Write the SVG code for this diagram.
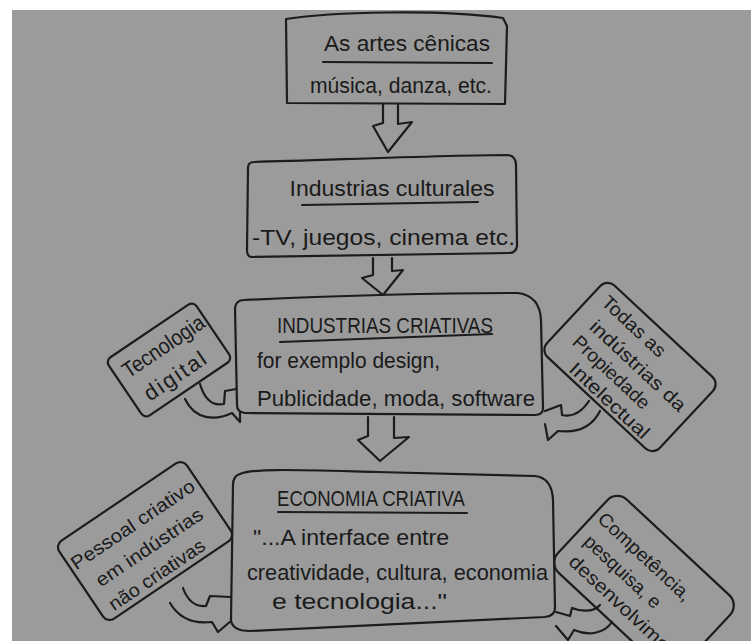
<svg xmlns="http://www.w3.org/2000/svg" width="751" height="641" viewBox="0 0 751 641">
<style>
.ln{fill:none;stroke:#1c1c1c;stroke-width:2.2;stroke-linecap:round;stroke-linejoin:round}
.bx{fill:#9b9b9b;stroke:#1c1c1c;stroke-width:2.2;stroke-linejoin:round}
.t{font-family:"Liberation Sans",Arial,sans-serif;fill:#1a1a1a;font-size:22px}
.s{font-size:19px}
.m{text-anchor:middle}
</style>
<rect x="0" y="0" width="751" height="641" fill="#ffffff"/>
<rect x="12" y="10" width="739" height="631" fill="#9b9b9b"/>

<g id="card-tecnologia" transform="translate(169,360) rotate(-34)">
<rect class="bx" x="-53" y="-35" width="106" height="70" rx="6"/>
<text class="t m" x="3" y="-7" font-size="20" textLength="94" lengthAdjust="spacingAndGlyphs">Tecnologia</text>
<text class="t m" x="-4" y="24" font-size="20" textLength="70" lengthAdjust="spacing">digital</text>
</g>
<g id="card-propiedade" transform="translate(630,367) rotate(43)">
<rect class="bx" x="-77" y="-49" width="154" height="98" rx="10"/>
<text class="t s m" x="-25" y="-26" textLength="80" lengthAdjust="spacingAndGlyphs">Todas as</text>
<text class="t s m" x="5" y="0" textLength="124" lengthAdjust="spacingAndGlyphs">indústrias da</text>
<text class="t s m" x="-10" y="23" textLength="98" lengthAdjust="spacingAndGlyphs">Propiedade</text>
<text class="t s m" x="8" y="45" textLength="102" lengthAdjust="spacingAndGlyphs">Intelectual</text>
</g>
<g id="card-pessoal" transform="translate(145,541) rotate(-34)">
<rect class="bx" x="-77" y="-47" width="154" height="94" rx="8"/>
<text class="t s m" x="-1" y="-14" textLength="145" lengthAdjust="spacingAndGlyphs">Pessoal criativo</text>
<text class="t s m" x="0" y="14" textLength="125" lengthAdjust="spacingAndGlyphs">em indústrias</text>
<text class="t s m" x="-9" y="41" textLength="112" lengthAdjust="spacingAndGlyphs">não criativas</text>
</g>
<g id="card-competencia" transform="translate(644,584) rotate(43)">
<rect class="bx" x="-84" y="-50" width="168" height="100" rx="14"/>
<text class="t s m" x="-18" y="-14" textLength="120" lengthAdjust="spacingAndGlyphs">Competência,</text>
<text class="t s m" x="-24" y="12" textLength="98" lengthAdjust="spacingAndGlyphs">pesquisa, e</text>
<text class="t s" x="-70" y="37" textLength="160" lengthAdjust="spacingAndGlyphs">desenvolvimento</text>
</g>

<g id="connectors">
<path class="ln" d="M383,104 L383,123 L373,126 L388,152 L412,122 L398,124 L398,104"/>
<path class="ln" d="M373,258 L373,275 L362,278 L383,295 L403,270 L392,271 L392,258"/>
<path class="ln" d="M368,417 L368,436 L358,440 L380,461 L409,437 L394,438 L394,417"/>
<path class="ln" d="M200,384 C205,401 214,406 224,404 L225,391 L236,389"/>
<path class="ln" d="M185,399 C195,420 215,421 232,413 L240,422 L240,411"/>
<path class="ln" d="M589,401 C581,413 571,417 562,415 L561,405 L545,411"/>
<path class="ln" d="M600,411 C591,429 575,433 558,431 L548,440 L545,424"/>
<path class="ln" d="M183,588 C188,602 196,607 206,606 L210,596 L231,597"/>
<path class="ln" d="M170,603 C180,620 195,624 212,622 L218,632 L231,621"/>
<path class="ln" d="M600,605 C594,612 582,612 572,608 L570,616 L556,612"/>
<path class="ln" d="M612,622 C604,634 588,636 574,630 L568,640 L556,626"/>
</g>

<g id="box-artes">
<path class="bx" d="M286,19 C330,12 440,9 503,18 L507,26 L505,104 L287,103 Z"/>
<text class="t m" x="407" y="51" textLength="166" lengthAdjust="spacingAndGlyphs">As artes cênicas</text>
<path class="ln" d="M323,62 L492,63"/>
<text class="t" x="310" y="93" textLength="182" lengthAdjust="spacingAndGlyphs">música, danza, etc.</text>
</g>
<g id="box-culturales">
<path class="bx" d="M254,162 C330,160 450,155 508,155 Q516,156 516,165 L517,246 Q516,253 509,253 L252,257 Q247,257 247,250 L248,168 Q248,162 254,162 Z"/>
<text class="t m" x="392" y="196" textLength="205" lengthAdjust="spacingAndGlyphs">Industrias culturales</text>
<path class="ln" d="M302,205 L478,202"/>
<text class="t" x="252" y="245" textLength="263" lengthAdjust="spacingAndGlyphs">-TV, juegos, cinema etc.</text>
</g>
<g id="box-criativas">
<path class="bx" d="M244,300 C330,296 450,293 518,293 Q540,296 541,320 L543,408 Q543,415 535,415 L245,413 Q237,412 237,405 L235,308 Q236,300 244,300 Z"/>
<text class="t m" x="385" y="333" textLength="216" lengthAdjust="spacingAndGlyphs">INDUSTRIAS CRIATIVAS</text>
<path class="ln" d="M280,342 L492,334"/>
<text class="t" x="257" y="368" textLength="183" lengthAdjust="spacingAndGlyphs">for exemplo design,</text>
<text class="t" x="257" y="406" textLength="278" lengthAdjust="spacingAndGlyphs">Publicidade, moda, software</text>
</g>
<g id="box-economia">
<path class="bx" d="M240,474 C252,468 300,470 377,472 L535,476 Q552,478 553,500 L555,608 Q555,616 545,617 L250,631 Q232,631 231,620 L233,485 Q233,476 240,474 Z"/>
<text class="t m" x="371" y="506" textLength="188" lengthAdjust="spacingAndGlyphs">ECONOMIA CRIATIVA</text>
<path class="ln" d="M278,512 L467,513"/>
<text class="t" x="253" y="545" textLength="196" lengthAdjust="spacingAndGlyphs">"...A interface entre</text>
<text class="t" x="247" y="580" textLength="301" lengthAdjust="spacingAndGlyphs">creatividade, cultura, economia</text>
<text class="t" x="272" y="609" textLength="175" lengthAdjust="spacingAndGlyphs">e tecnologia..."</text>
</g>
</svg>
